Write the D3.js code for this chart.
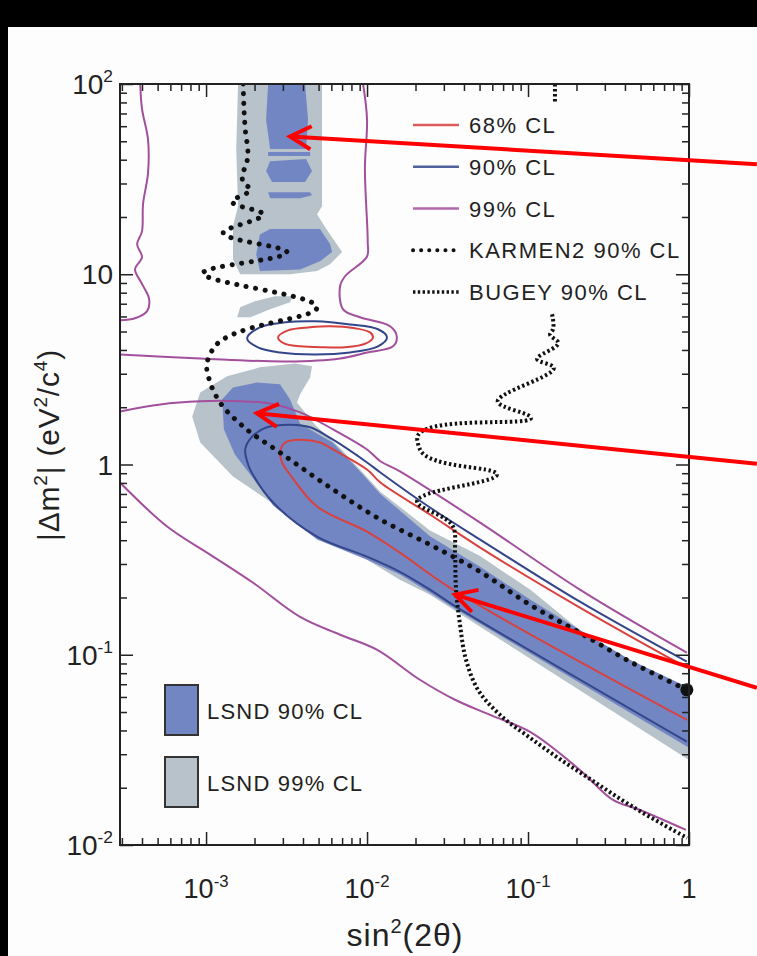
<!DOCTYPE html>
<html>
<head>
<meta charset="utf-8">
<script src="https://d3js.org/d3.v7.min.js"></script>
<style>
  html, body { margin: 0; padding: 0; background: #000; }
  svg { display: block; }
  text { font-family: "Liberation Sans", Arial, Helvetica, sans-serif; fill: #222; }
</style>
</head>
<body>
<script>
// ---- data: [sin^2(2theta), |dm^2| (eV^2/c^4)] ----

// KARMEN2 90% CL
const karmen = [[1.70e-3,100],[1.72e-3,74],[1.75e-3,58],[1.82e-3,42],[1.70e-3,30.5],[1.88e-3,28],
  [1.45e-3,24.2],[2.26e-3,20.7],[1.28e-3,16.6],[3.18e-3,13.1],[9.6e-4,10.2],[4.89e-3,6.7],
  [1.10e-3,4.03],[1.01e-3,3.36],[1.06e-3,2.7],[1.22e-3,2.12],[1.70e-3,1.585],[2.88e-3,1.156],
  [6.15e-3,0.739],[0.0121,0.514],[0.0246,0.379],[0.0504,0.273],[0.103,0.183],[0.21,0.1305],
  [0.43,0.092],[0.97,0.0654]];
const karmenEnd = [0.97, 0.0654];

// BUGEY 90% CL
const bugeyTop = [[0.147,100],[0.147,80]];
const bugey = [[0.141,6.16],[0.143,5.14],[0.137,4.83],[0.154,4.39],[0.114,3.57],[0.143,3.28],
  [0.0651,2.12],[0.103,1.79],[0.0205,1.35],[0.0213,1.2],[0.0642,0.886],[0.0205,0.631],
  [0.0342,0.472],[0.0352,0.336],[0.0357,0.22],[0.0378,0.144],[0.0412,0.094],[0.0489,0.0654],
  [0.067,0.0483],[0.103,0.0366],[0.151,0.029],[0.232,0.0228],[0.449,0.01585],[0.972,0.0109]];

// 99% CL contour pieces
const cl99Left = [[3.9e-4,100],[4.0e-4,74],[4.36e-4,51],[4.36e-4,34],[4.06e-4,23.4],[4.0e-4,16.8],
  [3.73e-4,14.4],[4.0e-4,12.3],[3.62e-4,10.6],[4.0e-4,8.9],[4.43e-4,7.4],[4.3e-4,6.4],
  [3.62e-4,5.87],[2.92e-4,5.73]];
const cl99Right = [[9.45e-3,100],[0.0100,65],[9.7e-3,36],[0.0101,14.7],[0.0100,12.4],[7.3e-3,9.76],
  [6.8e-3,8.65],[7.1e-3,6.54],[9.05e-3,5.94],[0.0139,5.33],[0.0153,4.72],[0.0145,4.18],
  [0.0100,3.88],[6.8e-3,3.61],[3.18e-3,3.48],[9.2e-4,3.61],[2.92e-4,3.79]];
const cl99Upper = [[2.92e-4,1.9],[5.2e-4,2.07],[9.2e-4,2.15],[1.63e-3,2.15],[2.5e-3,2.09],
  [3.84e-3,1.88],[6.15e-3,1.53],[0.0100,1.2],[0.0121,1.04],[0.016,0.92],[0.0504,0.495],
  [0.21,0.22],[0.97,0.1025]];
const cl99Lower = [[2.92e-4,0.804],[5.73e-4,0.472],[1.06e-3,0.336],[1.96e-3,0.239],[3.84e-3,0.158],
  [6.8e-3,0.1274],[0.0115,0.1063],[0.0213,0.0739],[0.0352,0.058],[0.0581,0.0483],[0.103,0.0393],
  [0.21,0.0248],[0.337,0.01726],[0.496,0.01528],[0.958,0.012]];

// 90% CL contours
const cl90Island = [[1.8e-3,4.6],[2.16e-3,5.26],[3.1e-3,5.59],[4.75e-3,5.66],[7.84e-3,5.45],
  [0.0117,5.14],[0.0133,4.66],[0.0117,4.18],[7.84e-3,3.88],[4.75e-3,3.79],[2.88e-3,3.88],[2.1e-3,4.13]];
const cl90Band = [[0.97,0.092],[0.21,0.19],[0.0504,0.403],[0.0246,0.594],[0.0121,0.908],[0.0100,1.025],
  [6.15e-3,1.35],[4.43e-3,1.57],[3.32e-3,1.62],[2.39e-3,1.57],[1.93e-3,1.40],[1.75e-3,1.20],
  [1.8e-3,1.04],[1.88e-3,0.94],[2.61e-3,0.631],[4.89e-3,0.418],[0.0100,0.328],[0.016,0.273],
  [0.0246,0.22],[0.0342,0.183],[0.97,0.0349]];

// 68% CL contours
const cl68Island = [[2.8e-3,4.66],[3.23e-3,5.07],[4.43e-3,5.26],[5.89e-3,5.33],[8.42e-3,5.2],
  [0.01044,4.95],[0.01089,4.66],[9.86e-3,4.33],[7.3e-3,4.13],[5.48e-3,4.13],[3.84e-3,4.18],[3.05e-3,4.33]];
const cl68Band = [[0.97,0.0855],[0.21,0.177],[0.0504,0.366],[0.0246,0.546],[0.0121,0.804],[0.0100,0.941],
  [6.15e-3,1.2],[5.1e-3,1.305],[3.84e-3,1.35],[3.1e-3,1.305],[2.88e-3,1.156],[3.01e-3,1.0],
  [3.32e-3,0.886],[4.89e-3,0.601],[0.0100,0.444],[0.016,0.344],[0.0342,0.22],[0.97,0.0455]];

// LSND 99% CL regions
const lsnd99Column = [[1.58e-3,100],[5.25e-3,100],[5.25e-3,22.8],[4.89e-3,20.7],[5.48e-3,17.7],
  [7.0e-3,13.1],[5.89e-3,11.3],[4.89e-3,10.4],[3.32e-3,10.0],[1.63e-3,10.0],[1.47e-3,12.0],
  [1.47e-3,17.9],[1.58e-3,22.8],[1.54e-3,45.5]];
const lsnd99Blob = [[1.56e-3,5.94],[1.63e-3,6.7],[2.01e-3,7.21],[2.68e-3,7.66],[3.47e-3,7.66],
  [3.32e-3,7.12],[2.5e-3,6.54],[1.88e-3,5.94]];
const lsnd99Band = [[8.2e-4,1.79],[9.2e-4,2.39],[1.35e-3,2.91],[2.16e-3,3.24],[3.57e-3,3.4],
  [4.55e-3,3.28],[4.43e-3,2.87],[3.84e-3,2.34],[3.67e-3,2.12],[4.75e-3,1.62],[6.8e-3,1.22],
  [0.0121,0.72],[0.0246,0.45],[0.0504,0.33],[0.103,0.22],[0.19,0.144],[0.373,0.094],
  [1,0.067],[1,0.028],[0.0246,0.207],[0.016,0.248],[7.84e-3,0.357],[3.84e-3,0.495],
  [2.39e-3,0.654],[1.47e-3,0.865],[9.2e-4,1.305]];

// LSND 90% CL regions
const lsnd90Column = [
  [[2.43e-3,100],[4.12e-3,100],[4.3e-3,65],[4.18e-3,45.5],[2.5e-3,45.5],[2.36e-3,65]],
  [[2.43e-3,43.9],[4.43e-3,43.9],[4.43e-3,41.8],[2.43e-3,41.8]],
  [[2.5e-3,39.3],[4.18e-3,40.3],[4.55e-3,34.9],[4.12e-3,30.5],[2.57e-3,30.5],[2.36e-3,34.9]],
  [[2.43e-3,27.0],[4.43e-3,27.0],[4.55e-3,26.0],[3.84e-3,25.1],[2.5e-3,25.1]],
  [[2.16e-3,16.2],[2.5e-3,17.3],[5.1e-3,17.3],[5.89e-3,14.4],[6.07e-3,13.1],[5.1e-3,11.7],
   [3.84e-3,10.6],[2.16e-3,10.4],[2.05e-3,12.7]]
];
const lsnd90Band = [[1.26e-3,2.2],[1.47e-3,2.54],[2.07e-3,2.7],[2.88e-3,2.64],[3.32e-3,2.2],
  [3.84e-3,1.64],[6.15e-3,1.3],[9.05e-3,0.92],[0.0121,0.70],[0.0246,0.42],[0.0504,0.29],
  [0.103,0.195],[0.21,0.135],[0.43,0.094],[1,0.067],[1,0.0324],[0.0342,0.177],[0.0246,0.212],
  [0.016,0.264],[0.01,0.316],[4.89e-3,0.403],[2.61e-3,0.608],[1.88e-3,0.886],[1.51e-3,1.13],[1.29e-3,1.53]];

// tick labels
const xTickLabels = [{v:1e-3, base:'10', exp:'-3'}, {v:1e-2, base:'10', exp:'-2'},
  {v:1e-1, base:'10', exp:'-1'}, {v:1, base:'1', exp:''}];
const yTickLabels = [{v:100, base:'10', exp:'2'}, {v:10, base:'10', exp:''}, {v:1, base:'1', exp:''},
  {v:0.1, base:'10', exp:'-1'}, {v:0.01, base:'10', exp:'-2'}];

// legends
const lineLegend = [
  {label:'68% CL', kind:'cl68'}, {label:'90% CL', kind:'cl90'}, {label:'99% CL', kind:'cl99'},
  {label:'KARMEN2 90% CL', kind:'karmen'}, {label:'BUGEY 90% CL', kind:'bugey'}];
const boxLegend = [{label:'LSND 90% CL', kind:'lsnd90'}, {label:'LSND 99% CL', kind:'lsnd99'}];

// red annotation arrows: tip in data coords, tail leaves the page at the right
const arrows = [
  {tip:[3.32e-3,53], tail:[2.64,37.9]},
  {tip:[2.07e-3,1.86], tail:[2.64,1.01]},
  {tip:[0.0352,0.207], tail:[2.64,0.067]}];

// ---- layout ----
const W = 757, H = 956;
const plot = {left:120, right:689, top:84, bottom:845};

const colors = {
  cl68: '#d9413f', cl90: '#34468a', cl99: '#a24f9c',
  lsnd90: '#7386c4', lsnd99: '#b7c2ca', ink: '#222'
};

const svg = d3.select('body').append('svg')
  .attr('width', W).attr('height', H);

svg.append('rect').attr('x', 8).attr('y', 27).attr('width', W - 8).attr('height', H - 27)
  .attr('fill', '#fdfdfd');

const x = d3.scaleLog().domain([2.92e-4, 1]).range([plot.left, plot.right]);
const y = d3.scaleLog().domain([0.01, 100]).range([plot.bottom, plot.top]);

svg.append('clipPath').attr('id', 'clip')
  .append('rect')
  .attr('x', plot.left).attr('y', plot.top)
  .attr('width', plot.right - plot.left).attr('height', plot.bottom - plot.top);

const g = svg.append('g').attr('clip-path', 'url(#clip)');

const area = d3.line().x(d => x(d[0])).y(d => y(d[1])).curve(d3.curveLinearClosed);
const smoothClosed = d3.line().x(d => x(d[0])).y(d => y(d[1])).curve(d3.curveCatmullRomClosed.alpha(0.5));
const smooth = d3.line().x(d => x(d[0])).y(d => y(d[1])).curve(d3.curveCatmullRom.alpha(0.5));

// filled LSND regions
[lsnd99Column, lsnd99Blob, lsnd99Band].forEach(poly => {
  g.append('path').attr('d', area(poly)).attr('fill', colors.lsnd99);
});
lsnd90Column.concat([lsnd90Band]).forEach(poly => {
  g.append('path').attr('d', area(poly)).attr('fill', colors.lsnd90);
});

// CL contours
[cl99Left, cl99Right, cl99Upper, cl99Lower].forEach(c => {
  g.append('path').attr('d', smooth(c)).attr('fill', 'none')
    .attr('stroke', colors.cl99).attr('stroke-width', 2);
});
g.append('path').attr('d', smoothClosed(cl90Island)).attr('fill', 'none')
  .attr('stroke', colors.cl90).attr('stroke-width', 2);
g.append('path').attr('d', smooth(cl90Band)).attr('fill', 'none')
  .attr('stroke', colors.cl90).attr('stroke-width', 2);
g.append('path').attr('d', smoothClosed(cl68Island)).attr('fill', 'none')
  .attr('stroke', colors.cl68).attr('stroke-width', 2);
g.append('path').attr('d', smooth(cl68Band)).attr('fill', 'none')
  .attr('stroke', colors.cl68).attr('stroke-width', 2);

// KARMEN2 and BUGEY dotted curves
const karmenStyle = s => s.attr('fill', 'none').attr('stroke', '#111').attr('stroke-width', 5)
  .attr('stroke-linecap', 'round').attr('stroke-dasharray', '0.1 9.5');
const bugeyStyle = s => s.attr('fill', 'none').attr('stroke', '#111').attr('stroke-width', 4)
  .attr('stroke-dasharray', '2.4 2.6');

g.append('path').attr('d', d3.line().x(d => x(d[0])).y(d => y(d[1])).curve(d3.curveCatmullRom.alpha(0.9))(karmen))
  .call(karmenStyle);
g.append('path').attr('d', d3.line().x(d => x(d[0])).y(d => y(d[1]))(bugeyTop)).call(bugeyStyle);
g.append('path').attr('d', d3.line().x(d => x(d[0])).y(d => y(d[1])).curve(d3.curveCatmullRom.alpha(0.9))(bugey))
  .call(bugeyStyle);

svg.append('circle').attr('cx', x(karmenEnd[0])).attr('cy', y(karmenEnd[1])).attr('r', 6.5)
  .attr('fill', '#111');

// ---- axes: inward ticks on all four sides ----
const tickVals = [];
for (let e = -4; e <= 2; e++) for (let m = 1; m <= 9; m++) tickVals.push(m * Math.pow(10, e));
const isMajor = v => Math.abs(Math.log10(v) - Math.round(Math.log10(v))) < 1e-9;
const xTicks = tickVals.filter(v => v >= 2.92e-4 && v <= 1.0000001);
const yTicks = tickVals.filter(v => v >= 0.01 - 1e-12 && v <= 100.0001);

function styleAxis(sel, sign, horiz) {
  sel.select('.domain').remove();
  sel.selectAll('.tick line')
    .attr('stroke', colors.ink).attr('stroke-width', 1.5)
    .attr(horiz ? 'y2' : 'x2', d => sign * (isMajor(d) ? 13 : 7));
}

svg.append('g').attr('transform', `translate(0,${plot.bottom})`)
  .call(d3.axisBottom(x).tickValues(xTicks).tickFormat('').tickSizeOuter(0))
  .call(s => styleAxis(s, -1, true));
svg.append('g').attr('transform', `translate(0,${plot.top})`)
  .call(d3.axisTop(x).tickValues(xTicks).tickFormat('').tickSizeOuter(0))
  .call(s => styleAxis(s, 1, true));
svg.append('g').attr('transform', `translate(${plot.left},0)`)
  .call(d3.axisLeft(y).tickValues(yTicks).tickFormat('').tickSizeOuter(0))
  .call(s => styleAxis(s, 1, false));
svg.append('g').attr('transform', `translate(${plot.right},0)`)
  .call(d3.axisRight(y).tickValues(yTicks).tickFormat('').tickSizeOuter(0))
  .call(s => styleAxis(s, -1, false));

svg.append('rect')
  .attr('x', plot.left).attr('y', plot.top)
  .attr('width', plot.right - plot.left).attr('height', plot.bottom - plot.top)
  .attr('fill', 'none').attr('stroke', colors.ink).attr('stroke-width', 2);

// tick labels with superscripts
function powLabel(sel, d, fs) {
  sel.append('tspan').text(d.base);
  if (d.exp) sel.append('tspan').attr('dy', -fs * 0.42).attr('font-size', fs * 0.62).text(d.exp);
}
xTickLabels.forEach(d => {
  const t = svg.append('text').attr('x', x(d.v)).attr('y', 898)
    .attr('text-anchor', 'middle').attr('font-size', 27);
  powLabel(t, d, 27);
});
yTickLabels.forEach(d => {
  const t = svg.append('text').attr('x', 113).attr('y', y(d.v) + 10)
    .attr('text-anchor', 'end').attr('font-size', 28);
  powLabel(t, d, 28);
});

// axis titles
const xt = svg.append('text').attr('x', 405).attr('y', 946).attr('text-anchor', 'middle')
  .attr('font-size', 32).attr('letter-spacing', 1);
xt.append('tspan').text('sin');
xt.append('tspan').attr('dy', -13).attr('font-size', 20).text('2');
xt.append('tspan').attr('dy', 13).text('(2θ)');

const yt = svg.append('text').attr('transform', 'translate(59,445) rotate(-90)')
  .attr('text-anchor', 'middle').attr('font-size', 30).attr('letter-spacing', 0.8);
yt.append('tspan').text('|Δm');
yt.append('tspan').attr('dy', -12).attr('font-size', 19).text('2');
yt.append('tspan').attr('dy', 12).text('| (eV');
yt.append('tspan').attr('dy', -12).attr('font-size', 19).text('2');
yt.append('tspan').attr('dy', 12).text('/c');
yt.append('tspan').attr('dy', -12).attr('font-size', 19).text('4');
yt.append('tspan').attr('dy', 12).text(')');

// ---- line legend (top right) ----
const legRowY = d3.scalePoint().domain(lineLegend.map(d => d.label)).range([125, 292]);
lineLegend.forEach(d => {
  const yy = legRowY(d.label);
  const ln = svg.append('line').attr('x1', 413).attr('x2', 459).attr('y1', yy).attr('y2', yy);
  if (d.kind === 'karmen') {
    ln.attr('stroke', '#111').attr('stroke-width', 4).attr('stroke-linecap', 'round')
      .attr('stroke-dasharray', '0.1 8');
  } else if (d.kind === 'bugey') {
    ln.attr('stroke', '#111').attr('stroke-width', 3.5).attr('stroke-dasharray', '2.4 2.4');
  } else {
    ln.attr('stroke', colors[d.kind]).attr('stroke-width', 2.5).attr('opacity', 0.85);
  }
  svg.append('text').attr('x', 469).attr('y', yy + 8).attr('font-size', 22)
    .attr('letter-spacing', 1.5).text(d.label);
});

// ---- box legend (bottom left) ----
const boxRowY = d3.scalePoint().domain(boxLegend.map(d => d.label)).range([685, 757]);
boxLegend.forEach(d => {
  const yy = boxRowY(d.label);
  svg.append('rect').attr('x', 165).attr('y', yy).attr('width', 33).attr('height', 50)
    .attr('fill', colors[d.kind]).attr('stroke', '#333').attr('stroke-width', 2);
  svg.append('text').attr('x', 207).attr('y', yy + 34).attr('font-size', 22)
    .attr('letter-spacing', 1.2).text(d.label);
});

// ---- red annotation arrows ----
arrows.forEach(a => {
  const tx = x(a.tip[0]), ty = y(a.tip[1]);
  const sx = x(a.tail[0]), sy = y(a.tail[1]);
  const ang = Math.atan2(sy - ty, sx - tx);
  const len = 24, spread = 0.5;
  svg.append('line').attr('x1', sx).attr('y1', sy).attr('x2', tx).attr('y2', ty)
    .attr('stroke', '#ff0000').attr('stroke-width', 4);
  const p = d3.path();
  p.moveTo(tx + len * Math.cos(ang - spread), ty + len * Math.sin(ang - spread));
  p.lineTo(tx, ty);
  p.lineTo(tx + len * Math.cos(ang + spread), ty + len * Math.sin(ang + spread));
  svg.append('path').attr('d', p.toString()).attr('fill', 'none')
    .attr('stroke', '#ff0000').attr('stroke-width', 4).attr('stroke-linejoin', 'miter');
});
</script>
</body>
</html>
